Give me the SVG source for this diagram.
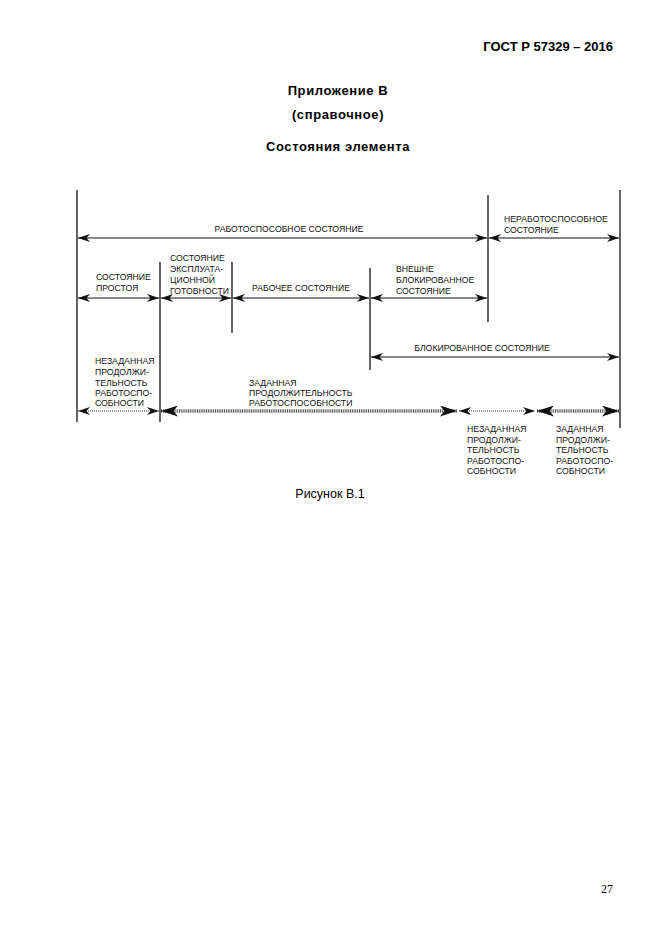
<svg xmlns="http://www.w3.org/2000/svg" width="662" height="935" viewBox="0 0 662 935">
<style>
.t{font-family:"Liberation Sans",Arial,sans-serif;font-size:8.7px;fill:#111}
.h{font-family:"Liberation Sans",Arial,sans-serif;font-weight:bold;font-size:13px;fill:#000}
.v{stroke:#111;stroke-width:1.3;fill:none}
.a{stroke:#111;stroke-width:1.2;fill:none;marker-start:url(#ah);marker-end:url(#ah)}
.d{stroke:#333;stroke-width:1;stroke-dasharray:1 1;fill:none;marker-start:url(#ah);marker-end:url(#ah)}
.D{stroke:#555;stroke-width:3.5;stroke-dasharray:1 0.8;fill:none;marker-start:url(#ab);marker-end:url(#ab)}
</style>
<defs>
<marker id="ah" viewBox="0 0 12 8" refX="12" refY="4" markerWidth="12" markerHeight="8" markerUnits="userSpaceOnUse" orient="auto-start-reverse">
<path d="M0,0 L12,4 L0,8 L3.5,4 Z" fill="#111"/>
</marker>
<marker id="ab" viewBox="0 0 17 11" refX="17" refY="5.5" markerWidth="17" markerHeight="11" markerUnits="userSpaceOnUse" orient="auto-start-reverse">
<path d="M0,0 L17,5.5 L0,11 L4.5,5.5 Z" fill="#111"/>
</marker>
</defs>
<rect width="662" height="935" fill="#fff"/>
<g id="header">
<text class="h" x="613" y="51" text-anchor="end">ГОСТ Р 57329 – 2016</text>
<text class="h" x="338" y="95" text-anchor="middle" letter-spacing="0.6">Приложение В</text>
<text class="h" x="338" y="119" text-anchor="middle" letter-spacing="0.6">(справочное)</text>
<text class="h" x="338" y="151" text-anchor="middle" letter-spacing="0.6">Состояния элемента</text>
</g>
<g id="lines">
<line class="v" x1="77" y1="190" x2="77" y2="422"/>
<line class="v" x1="160" y1="262" x2="160" y2="422"/>
<line class="v" x1="232" y1="262" x2="232" y2="333"/>
<line class="v" x1="370" y1="268" x2="370" y2="370"/>
<line class="v" x1="488" y1="195" x2="488" y2="322"/>
<line class="v" x1="620" y1="190" x2="620" y2="428"/>
</g>
<g id="connectors">
<line class="a" x1="78" y1="238" x2="487" y2="238"/>
<line class="a" x1="489" y1="238" x2="619" y2="238"/>
<line class="a" x1="78" y1="298" x2="159" y2="298"/>
<line class="a" x1="161" y1="298" x2="231" y2="298"/>
<line class="a" x1="233" y1="298" x2="369" y2="298"/>
<line class="a" x1="371" y1="298" x2="487" y2="298"/>
<line class="a" x1="371" y1="357" x2="619" y2="357"/>
<line class="d" x1="78" y1="411" x2="159" y2="411"/>
<line class="D" x1="161" y1="411" x2="457" y2="411"/>
<line class="d" x1="459" y1="411" x2="535" y2="411"/>
<line class="D" x1="537" y1="411" x2="619" y2="411"/>
</g>
<g id="n-rabotosp">
<text class="t" x="289" y="232" text-anchor="middle">РАБОТОСПОСОБНОЕ СОСТОЯНИЕ</text>
</g>
<g id="n-nerabotosp">
<text class="t" x="504" y="222">НЕРАБОТОСПОСОБНОЕ</text>
<text class="t" x="504" y="233">СОСТОЯНИЕ</text>
</g>
<g id="n-prostoy">
<text class="t" x="96" y="280">СОСТОЯНИЕ</text>
<text class="t" x="96" y="291">ПРОСТОЯ</text>
</g>
<g id="n-gotovnost">
<text class="t" x="170" y="261">СОСТОЯНИЕ</text>
<text class="t" x="170" y="272">ЭКСПЛУАТА-</text>
<text class="t" x="170" y="283">ЦИОННОЙ</text>
<text class="t" x="170" y="294">ГОТОВНОСТИ</text>
</g>
<g id="n-rabochee">
<text class="t" x="301" y="291" text-anchor="middle">РАБОЧЕЕ СОСТОЯНИЕ</text>
</g>
<g id="n-vneshne">
<text class="t" x="396" y="272">ВНЕШНЕ</text>
<text class="t" x="396" y="283">БЛОКИРОВАННОЕ</text>
<text class="t" x="396" y="294">СОСТОЯНИЕ</text>
</g>
<g id="n-blok">
<text class="t" x="482" y="351" text-anchor="middle">БЛОКИРОВАННОЕ СОСТОЯНИЕ</text>
</g>
<g id="n-nezad1">
<text class="t" x="95" y="364">НЕЗАДАННАЯ</text>
<text class="t" x="95" y="375">ПРОДОЛЖИ-</text>
<text class="t" x="95" y="386">ТЕЛЬНОСТЬ</text>
<text class="t" x="95" y="396">РАБОТОСПО-</text>
<text class="t" x="95" y="406">СОБНОСТИ</text>
</g>
<g id="n-zad1">
<text class="t" x="249" y="386">ЗАДАННАЯ</text>
<text class="t" x="249" y="396">ПРОДОЛЖИТЕЛЬНОСТЬ</text>
<text class="t" x="249" y="406">РАБОТОСПОСОБНОСТИ</text>
</g>
<g id="n-nezad2">
<text class="t" x="467" y="432">НЕЗАДАННАЯ</text>
<text class="t" x="467" y="443">ПРОДОЛЖИ-</text>
<text class="t" x="467" y="453">ТЕЛЬНОСТЬ</text>
<text class="t" x="467" y="464">РАБОТОСПО-</text>
<text class="t" x="467" y="474">СОБНОСТИ</text>
</g>
<g id="n-zad2">
<text class="t" x="556" y="432">ЗАДАННАЯ</text>
<text class="t" x="556" y="443">ПРОДОЛЖИ-</text>
<text class="t" x="556" y="453">ТЕЛЬНОСТЬ</text>
<text class="t" x="556" y="464">РАБОТОСПО-</text>
<text class="t" x="556" y="474">СОБНОСТИ</text>
</g>
<g id="caption">
<text x="330" y="498" text-anchor="middle" font-family="Liberation Sans, Arial, sans-serif" font-size="12.5px" fill="#000">Рисунок В.1</text>
<text x="613" y="893" text-anchor="end" font-family="Liberation Serif, Times New Roman, serif" font-size="12px" fill="#000">27</text>
</g>
</svg>
